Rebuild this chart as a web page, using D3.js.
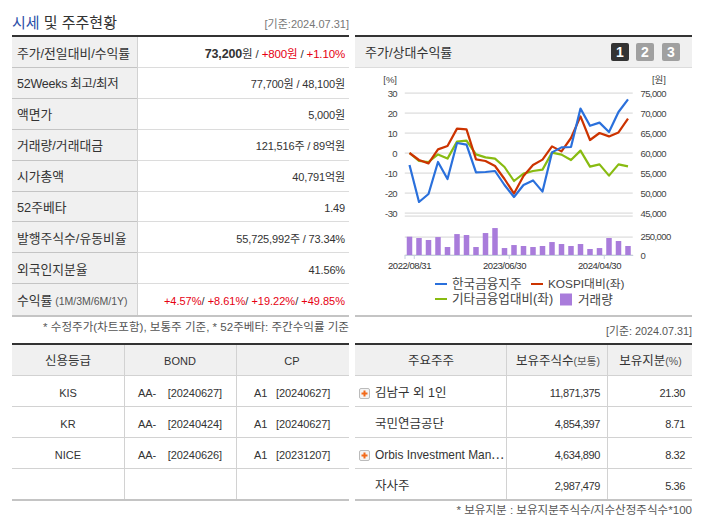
<!DOCTYPE html>
<html><head><meta charset="utf-8">
<script src="https://cdn.jsdelivr.net/npm/d3@7/dist/d3.min.js"></script>
<style>
html,body{margin:0;padding:0;background:#fff}
svg{display:block}
text{font-family:"Liberation Sans","Noto Sans CJK KR",sans-serif;fill:#333}
</style></head><body><div id="c"></div>
<script>
const months=["2022/08/31","2022/09/30","2022/10/31","2022/11/30","2022/12/31","2023/01/31","2023/02/28","2023/03/31","2023/04/30","2023/05/31","2023/06/30","2023/07/31","2023/08/31","2023/09/30","2023/10/31","2023/11/30","2023/12/31","2024/01/31","2024/02/29","2024/03/31","2024/04/30","2024/05/31","2024/06/30","2024/07/31"];
const labelMonths=["2022/08/31","2023/06/30","2024/04/30"];
const stock=[-6,-24.5,-20.5,-4.5,-13,5,4.2,-9.7,-9.5,-9,-16,-22,-16,-13.7,-19.3,0.3,2.8,3,22.2,13.6,15.2,10.5,20.5,26.8];
const kospi=[0,-3.5,-5.2,1.8,3.5,12.2,11.8,-3.2,-4,-6.5,-13,-20.3,-11.5,-6,-3.3,3.3,0.8,7.5,18.3,6.5,10,8.3,10.3,17.2];
const sector=[0,-4,-4.5,-0.7,-2.8,5.7,6.2,-0.7,-2.2,-2.8,-7,-14,-10.3,-9,-8.3,0.2,-0.8,-3.5,1.2,-6.8,-5.7,-11.3,-5.7,-6.7];
const volume=[250000,232000,205000,245000,109000,286000,273000,109000,300000,368000,95000,136000,123000,109000,123000,177000,150000,123000,150000,82000,95000,232000,191000,123000];
const pctTicks=[30,20,10,0,-10,-20,-30];
const wonTicks=[75000,70000,65000,60000,55000,50000,45000];
const volTicks=[0,250000];
const volGrid=[0,250000,530000];
const seriesNames=["한국금융지주","KOSPI대비(좌)","기타금융업대비(좌)","거래량"];
const priceLabels=["주가/전일대비/수익률","52Weeks 최고/최저","액면가","거래량/거래대금","시가총액","52주베타","발행주식수/유동비율","외국인지분율"];
const priceValues=[
 [["73,200","b"],["원 / ",""],["+800원","r"],[" / ",""],["+1.10%","r"]],
 [["77,700원 / 48,100원",""]],[["5,000원",""]],[["121,516주 / 89억원",""]],[["40,791억원",""]],[["1.49",""]],[["55,725,992주 / 73.34%",""]],[["41.56%",""]],
 [["+4.57%","r"],["/ ",""],["+8.61%","r"],["/ ",""],["+19.22%","r"],["/ ",""],["+49.85%","r"]]];
const creditHead=["신용등급","BOND","CP"];
const creditRows=[["KIS","AA-    [20240627]","A1   [20240627]"],["KR","AA-    [20240424]","A1   [20240627]"],["NICE","AA-    [20240626]","A1   [20231207]"],["","",""]];
const holderHead=["주요주주","보유주식수","보유지분"];
const holderNames=["김남구 외 1인","국민연금공단","Orbis Investment Man⋯","자사주"];
const holderPlus=[true,false,true,false];
const holderShares=["11,871,375","4,854,397","4,634,890","2,987,479"];
const holderPct=["21.30","8.71","8.32","5.36"];

const COL={blue:"#2a70dc",red:"#cc3300",green:"#88bb11",purple:"#a97cdb",dark:"#333",grid:"#dcdcdc",cell:"#d2d2d2",bg:"#f0f0f0",thick:"#c4c4c4",txt:"#333",redT:"#e60012"};
const svg=d3.select("#c").append("svg").attr("width",702).attr("height",525);
const hl=(x1,x2,y,c,w=1)=>svg.append("rect").attr("x",x1).attr("y",y).attr("width",x2-x1).attr("height",w).attr("fill",c);
const vl=(x,y1,y2,c)=>svg.append("rect").attr("x",x).attr("y",y1).attr("width",1).attr("height",y2-y1).attr("fill",c);
const T=(x,y,s,size=12,anchor="start",fill=COL.txt,g=svg)=>g.append("text").attr("x",x).attr("y",y).attr("font-size",size).attr("text-anchor",anchor).style("fill",fill).text(s);

// title
const tt=svg.append("text").attr("x",12).attr("y",27.5).attr("font-size",15);
tt.append("tspan").style("fill","#2b4fa8").text("시세");
tt.append("tspan").style("fill","#333").text(" 및 주주현황");
T(349,27.5,"[기준:2024.07.31]",11,"end","#777");

// price table
hl(12,349,35,"#333",2);
const rowH=30.9, top0=37;
svg.append("rect").attr("x",12).attr("y",top0).attr("width",125).attr("height",rowH*9).attr("fill",COL.bg);
priceLabels.concat(["수익률"]).forEach((l,i)=>{
  const y=top0+rowH*i;
  const t=T(17,y+20.5,l,i===1?12.5:12.8);
  if(i===1)t.style("letter-spacing","-0.25px");
  if(i===8){t.append("tspan").attr("font-size",10.5).style("fill","#555").text(" (1M/3M/6M/1Y)");}
  const v=svg.append("text").attr("x",345).attr("y",y+20.5).attr("font-size",11).attr("text-anchor","end").attr("letter-spacing",i===8?0:-0.15);
  priceValues[i].forEach(([s,k])=>v.append("tspan").text(s).style("fill",k==="r"?COL.redT:"#333").style("font-weight",k==="b"?"bold":"normal").attr("font-size",k==="b"?12.5:(i===0?11.5:null)));
  if(i<8){hl(12,137,Math.round(y+rowH)-1,COL.thick);hl(137,349,Math.round(y+rowH)-1,COL.grid);}
});
vl(137,37,315,COL.cell);
hl(12,349,315,COL.thick,2);
T(349,330.5,"* 수정주가(차트포함), 보통주 기준, * 52주베타: 주간수익률 기준",11.55,"end","#555");

// chart panel
hl(355,692,35,"#333",2);
svg.append("rect").attr("x",355).attr("y",37).attr("width",337).attr("height",30).attr("fill",COL.bg);
hl(355,692,67,COL.grid);
T(365,57,"주가/상대수익률",13);
[["1",611,"#333"],["2",636,"#a0a0a0"],["3",662,"#a0a0a0"]].forEach(([s,x,c])=>{
  svg.append("rect").attr("x",x).attr("y",43).attr("width",18).attr("height",18).attr("rx",2).attr("fill",c);
  T(x+9,57,s,14,"middle","#fff").style("font-weight","bold");
});
const x=d3.scaleBand().domain(months).range([404.75,632.75]);
const yP=d3.scaleLinear().domain([-30,30]).range([213,93]);
const yW=d3.scaleLinear().domain([45000,75000]).range([213,93]);
const yV=d3.scaleLinear().domain([0,250000]).range([255,236.7]);
const cx=m=>x(m)+x.bandwidth()/2;
const axF="letter-spacing:-0.6px";
pctTicks.forEach(d=>{
  hl(404.75,632.75,Math.round(yP(d))-0.5,COL.grid,1.2);
  T(397,yP(d)+3.5,d,9.5,"end","#444").attr("style",axF+";fill:#444");
});
wonTicks.forEach(d=>T(640.5,yW(d)+3.5,d3.format(",")(d),9.5,"start","#444").attr("style",axF+";fill:#444"));
volGrid.forEach(d=>hl(404.75,632.75,Math.round(yV(d))-0.5,COL.grid,1.2));
volTicks.forEach(d=>T(640.5,yV(d)+3.5,d3.format(",")(d),9.5,"start","#444").attr("style",axF+";fill:#444"));
T(397,83,"[%]",9.5,"end","#444");
T(666,83,"[원]",9.5,"end","#444");
svg.append("g").selectAll("rect").data(volume).join("rect")
 .attr("x",(d,i)=>cx(months[i])-2.75).attr("width",5.5)
 .attr("y",d=>yV(d)).attr("height",d=>yV(0)-yV(d)).attr("fill",COL.purple);
const line=d3.line().x((d,i)=>cx(months[i])).y(d=>yP(d));
[[sector,COL.green],[kospi,COL.red],[stock,COL.blue]].forEach(([a,c])=>
 svg.append("path").attr("d",line(a)).attr("fill","none").attr("stroke",c).attr("stroke-width",2.2).attr("stroke-linejoin","round"));
const ax=svg.append("g").attr("transform","translate(0,255)").call(d3.axisBottom(x).tickValues(labelMonths).tickSize(4).tickSizeOuter(0));
ax.select(".domain").attr("stroke","#c4cfdc");
ax.selectAll("line").attr("stroke","#c4cfdc").attr("transform",`translate(${x.bandwidth()/2},0)`);
ax.selectAll("text").attr("y",7).attr("font-size",9.5).style("letter-spacing","-0.45px").style("fill","#333").attr("dy","0.71em").style("font-family",'"Liberation Sans"');
svg.append("rect").attr("x",404.5).attr("y",255).attr("width",1).attr("height",4).attr("fill","#c4cfdc");
[[435,284,COL.blue,452],[531,284,COL.red,548],[435,299,COL.green,452]].forEach(([lx,ly,c,tx],i)=>{
  hl(lx,lx+12,ly-1,c,2);
  const t=T(tx,ly+4,seriesNames[i],i===1?11.8:12.6,"start","#444");
});
svg.append("rect").attr("x",560).attr("y",293.5).attr("width",12).attr("height",12).attr("fill",COL.purple);
T(578,303.5,seriesNames[3],12.6,"start","#444");
hl(355,692,315,COL.thick,2);
T(692,334.5,"[기준: 2024.07.31]",10.8,"end","#555");

// credit table
hl(12,349,343,"#333",2);
svg.append("rect").attr("x",12).attr("y",345).attr("width",337).attr("height",30).attr("fill",COL.bg);
const cC=[68,180,292], rowY=[375,406,437,468,499];
creditHead.forEach((s,i)=>T(cC[i],365,s,i?11:12.5,"middle"));
rowY.slice(0,4).forEach(y=>hl(12,349,y,COL.cell));
hl(12,349,499,COL.thick,2);
creditRows.forEach((r,i)=>{
  T(cC[0],rowY[i]+21.5,r[0],11,"middle");
  T(138,rowY[i]+21.5,r[1],11).style("white-space","pre").style("letter-spacing","-0.1px");
  T(254,rowY[i]+21.5,r[2],11).style("white-space","pre").style("letter-spacing","-0.1px");
});
vl(124,345,499,COL.cell);vl(236,345,499,COL.cell);

// holder table
hl(355,692,343,"#333",2);
svg.append("rect").attr("x",355).attr("y",345).attr("width",337).attr("height",30).attr("fill",COL.bg);
T(431,365,holderHead[0],12.5,"middle");
const h1=T(558,365,holderHead[1],12.5,"middle");h1.append("tspan").attr("font-size",10.5).style("fill","#555").text("(보통)");
const h2=T(650.5,365,holderHead[2],12.5,"middle");h2.append("tspan").attr("font-size",10.5).style("fill","#555").text("(%)");
rowY.slice(0,4).forEach(y=>hl(355,692,y,COL.cell));
hl(355,692,499,COL.thick,2);
holderNames.forEach((n,i)=>{
  const y=rowY[i];
  if(holderPlus[i]){
    svg.append("rect").attr("x",359.5).attr("y",y+13.5).attr("width",10).attr("height",10).attr("rx",1.5).attr("fill","#f4f4f4").attr("stroke","#bbb");
    svg.append("rect").attr("x",361.5).attr("y",y+17.5).attr("width",6).attr("height",2).attr("fill","#f26a1b");
    svg.append("rect").attr("x",363.5).attr("y",y+15.5).attr("width",2).attr("height",6).attr("fill","#f26a1b");
  }
  const t=T(375,y+21.5,n,i===2?11.9:12.5);
  T(600,y+21.5,holderShares[i],11,"end").style("letter-spacing","-0.4px");
  T(685,y+21.5,holderPct[i],11,"end").style("letter-spacing","-0.4px");
});
vl(506,345,499,COL.cell);vl(607,345,499,COL.cell);
T(692,514,"* 보유지분 : 보유지분주식수/지수산정주식수*100",11.55,"end","#555");
</script></body></html>
